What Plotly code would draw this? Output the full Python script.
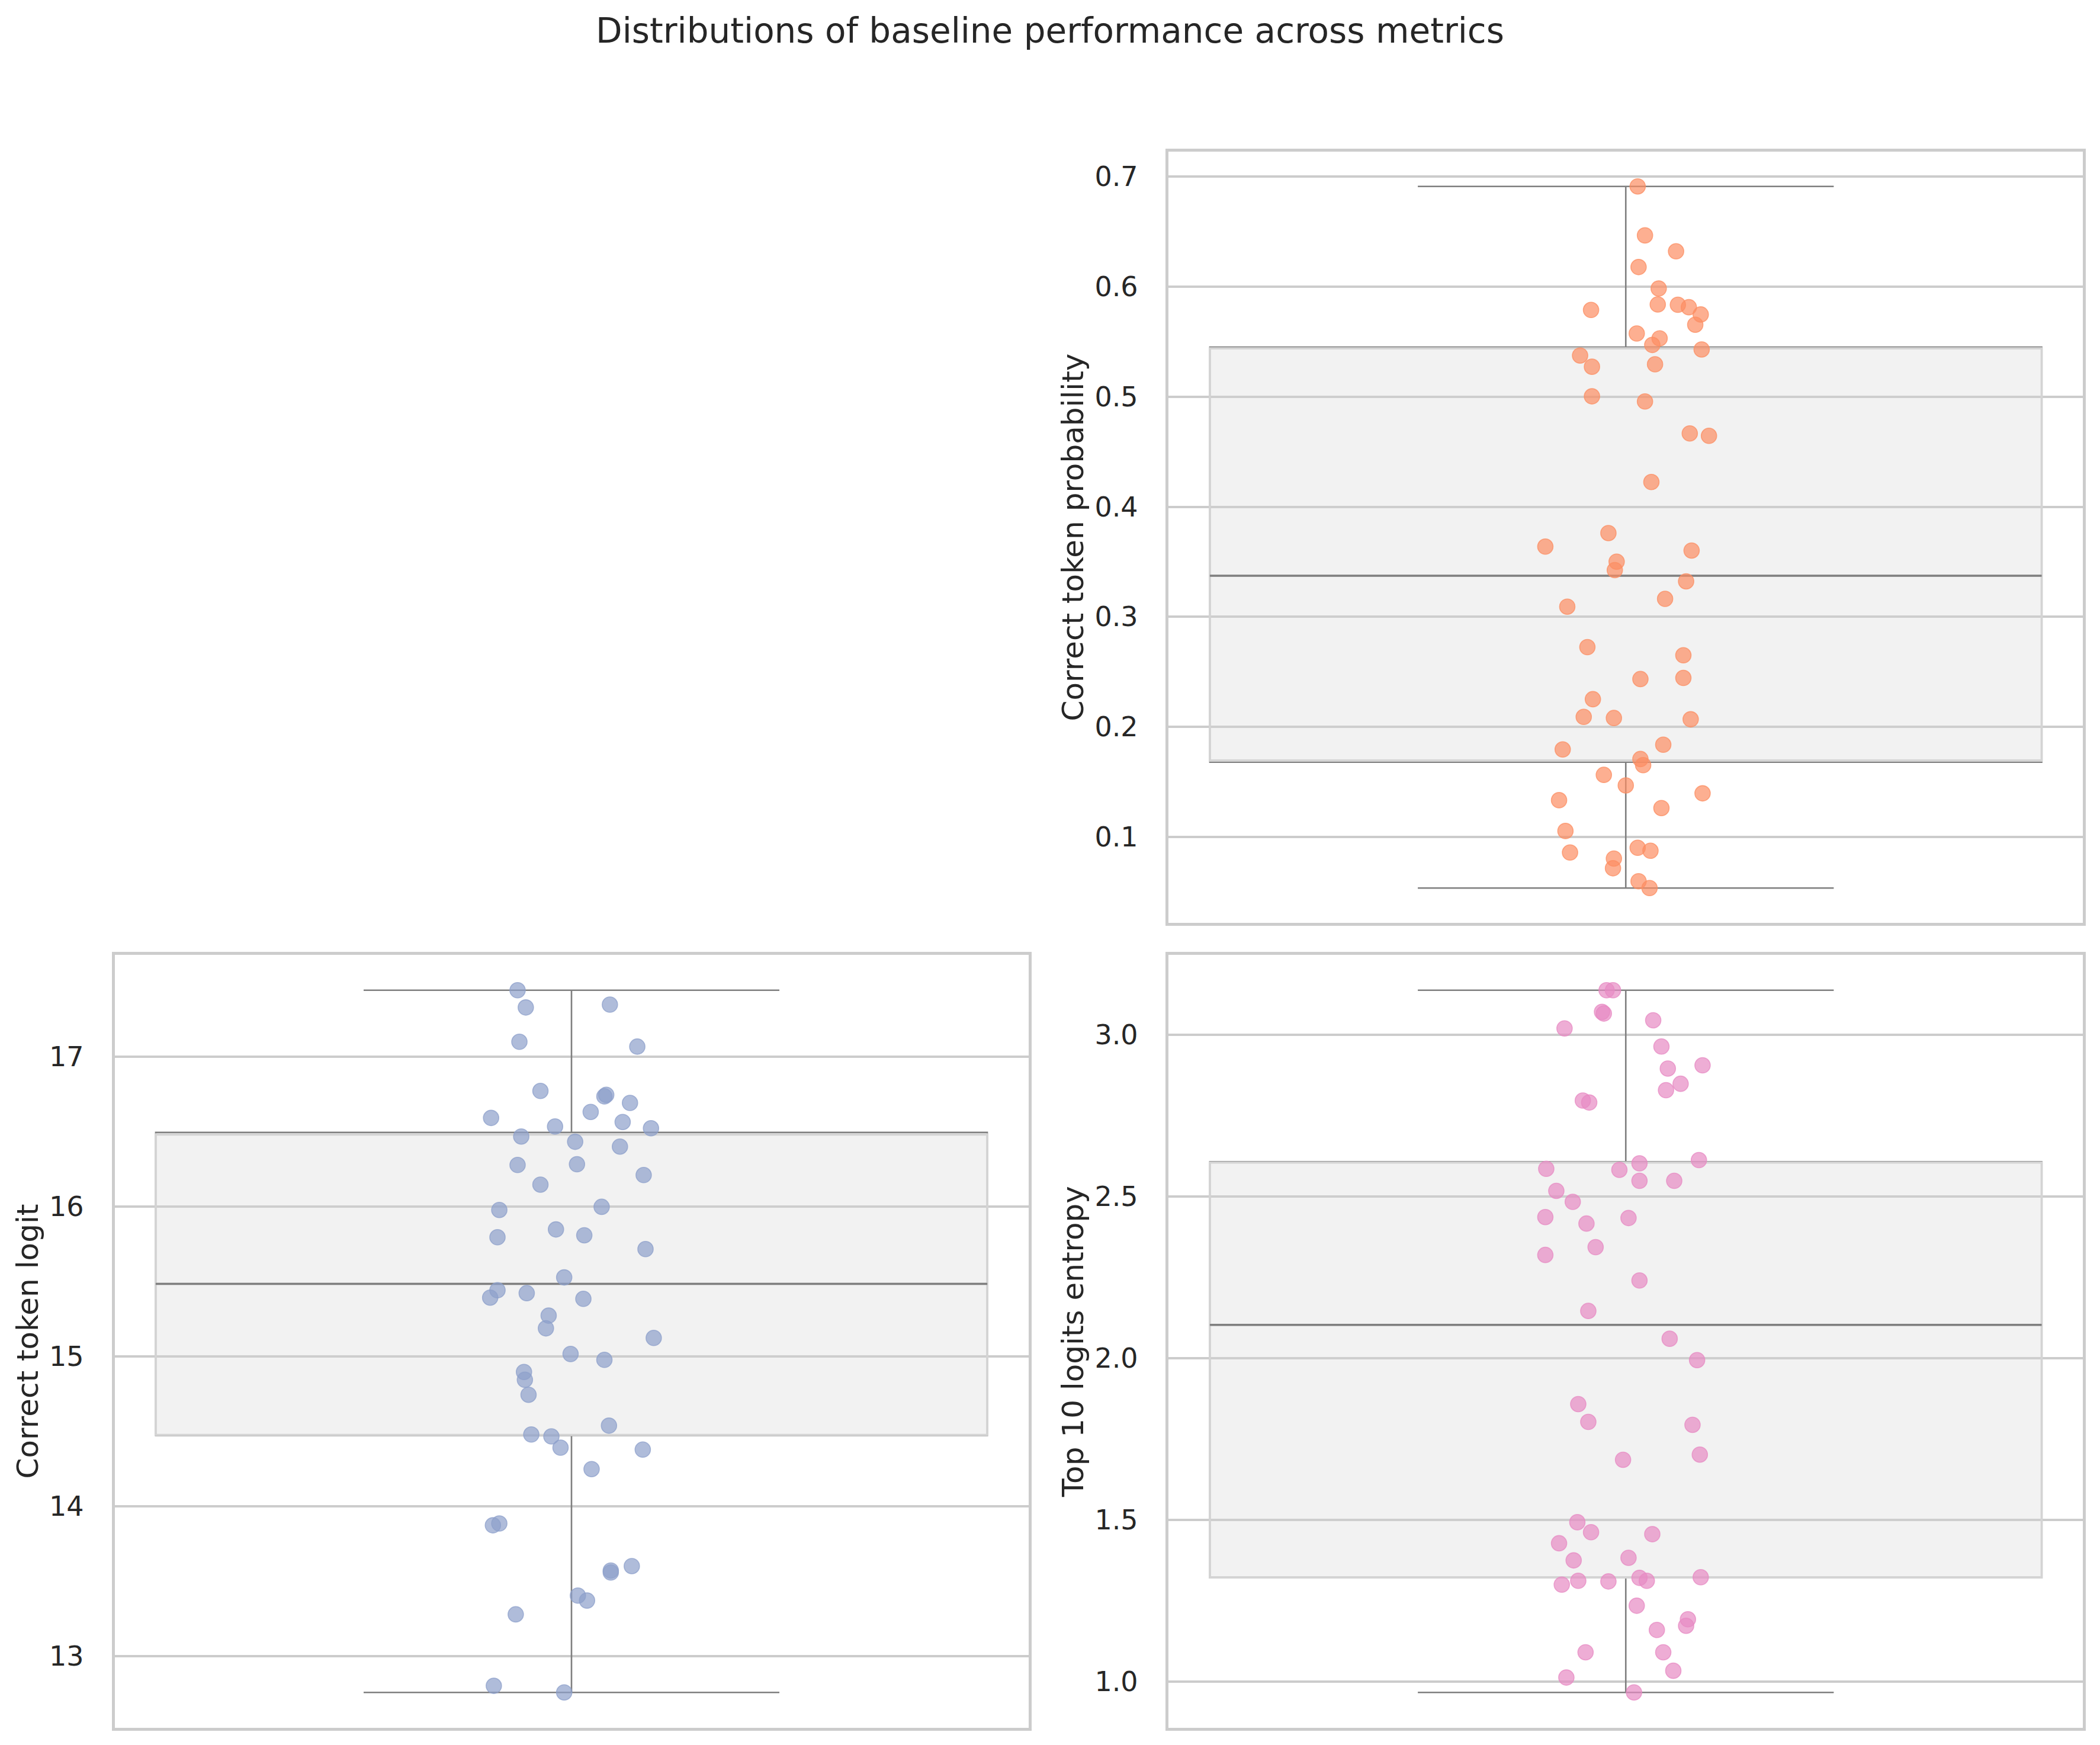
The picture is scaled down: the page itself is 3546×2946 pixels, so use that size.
import numpy as np
import plotly.graph_objects as go

TITLE = "Distributions of baseline performance across metrics"

# Correct token probability (top-right panel)
prob = [0.6912, 0.6467, 0.6322, 0.6179, 0.5984, 0.5789, 0.5839, 0.5836, 0.5814, 0.5748,
        0.5655, 0.5575, 0.5531, 0.5471, 0.5430, 0.5375, 0.5273, 0.5295, 0.5004, 0.4957,
        0.4667, 0.4645, 0.4225, 0.3761, 0.3638, 0.3602, 0.3501, 0.3424, 0.3322, 0.3163,
        0.3092, 0.2724, 0.2650, 0.2434, 0.2444, 0.2251, 0.2090, 0.2080, 0.2068, 0.1837,
        0.1794, 0.1707, 0.1651, 0.1563, 0.1467, 0.1395, 0.1333, 0.1261, 0.1053, 0.0857,
        0.0900, 0.0873, 0.0802, 0.0714, 0.0596, 0.0534]
prob_jitter = [0.013, 0.021, 0.055, 0.014, 0.036, -0.038, 0.035, 0.057, 0.069, 0.082,
               0.076, 0.012, 0.037, 0.029, 0.083, -0.050, -0.037, 0.032, -0.037, 0.021,
               0.070, 0.091, 0.028, -0.019, -0.088, 0.072, -0.010, -0.012, 0.066, 0.043,
               -0.064, -0.042, 0.063, 0.016, 0.063, -0.036, -0.046, -0.013, 0.071, 0.041,
               -0.069, 0.016, 0.019, -0.024, 0.000, 0.084, -0.073, 0.039, -0.066, -0.061,
               0.013, 0.027, -0.013, -0.014, 0.014, 0.026]

# Correct token logit (bottom-left panel)
logit = [17.443, 17.328, 17.347, 17.099, 17.067, 16.771, 16.735, 16.745, 16.691, 16.631,
         16.591, 16.534, 16.564, 16.522, 16.467, 16.432, 16.400, 16.277, 16.282, 16.210,
         16.146, 15.977, 15.998, 15.847, 15.795, 15.808, 15.716, 15.527, 15.441, 15.392,
         15.422, 15.384, 15.272, 15.187, 15.123, 15.016, 14.977, 14.896, 14.844, 14.744,
         14.538, 14.479, 14.466, 14.391, 14.378, 14.248, 13.885, 13.873, 13.601, 13.571,
         13.558, 13.404, 13.371, 13.279, 12.802, 12.758]
logit_jitter = [-0.059, -0.050, 0.042, -0.057, 0.072, -0.034, 0.036, 0.038, 0.064, 0.021,
                -0.088, -0.018, 0.056, 0.087, -0.055, 0.004, 0.053, -0.059, 0.006, 0.079,
                -0.034, -0.079, 0.033, -0.017, -0.081, 0.014, 0.081, -0.008, -0.081, -0.089,
                -0.049, 0.013, -0.025, -0.028, 0.090, -0.001, 0.036, -0.052, -0.051, -0.047,
                0.041, -0.044, -0.022, -0.012, 0.078, 0.022, -0.079, -0.086, 0.066, 0.043,
                0.043, 0.007, 0.017, -0.061, -0.085, -0.008]

# Top 10 logits entropy (bottom-right panel)
entropy = [3.137, 3.137, 3.070, 3.065, 3.044, 3.019, 2.963, 2.895, 2.905, 2.848,
           2.828, 2.796, 2.790, 2.612, 2.602, 2.585, 2.582, 2.548, 2.548, 2.517,
           2.483, 2.436, 2.416, 2.433, 2.343, 2.319, 2.240, 2.146, 2.060, 1.994,
           1.858, 1.803, 1.794, 1.686, 1.702, 1.493, 1.462, 1.456, 1.428, 1.375,
           1.383, 1.300, 1.312, 1.310, 1.321, 1.312, 1.323, 1.235, 1.193, 1.173,
           1.160, 1.091, 1.091, 1.034, 1.013, 0.967]
entropy_jitter = [-0.021, -0.014, -0.026, -0.024, 0.030, -0.067, 0.039, 0.046, 0.084, 0.060,
                  0.044, -0.047, -0.040, 0.080, 0.015, -0.087, -0.007, 0.015, 0.053, -0.076,
                  -0.058, -0.088, -0.043, 0.003, -0.033, -0.088, 0.015, -0.041, 0.048, 0.078,
                  -0.052, -0.041, 0.073, -0.003, 0.081, -0.053, -0.038, 0.029, -0.073, -0.057,
                  0.003, -0.070, -0.052, -0.019, 0.015, 0.023, 0.082, 0.012, 0.068, 0.066,
                  0.034, -0.044, 0.041, 0.052, -0.065, 0.009]

y_labels = ["Correct token probability", "Correct token logit", "Top 10 logits entropy"]
point_colors = ["252,141,98", "141,160,203", "231,138,195"]

FONT = "DejaVu Sans"
TEXT = "#262626"
GRID = "#cccccc"
BOXW = 0.91

panels = [
    dict(vals=prob, jit=prob_jitter, label=y_labels[0], rgb=point_colors[0], ax="",
         xdom=[0.55654, 0.99182], ydom=[0.47098, 0.91327], dtick=0.1, fmt=".1f"),
    dict(vals=logit, jit=logit_jitter, label=y_labels[1], rgb=point_colors[1], ax="2",
         xdom=[0.05457, 0.48971], ydom=[0.01001, 0.45265], dtick=1, fmt="d"),
    dict(vals=entropy, jit=entropy_jitter, label=y_labels[2], rgb=point_colors[2], ax="3",
         xdom=[0.55654, 0.99182], ydom=[0.01001, 0.45265], dtick=0.5, fmt=".1f"),
]

fig = go.Figure()
layout_axes = {}
for p in panels:
    xa, ya = "x" + p["ax"], "y" + p["ax"]
    v = np.asarray(p["vals"])
    q1, med, q3 = np.percentile(v, [25, 50, 75])
    common = dict(xaxis=xa, yaxis=ya, showlegend=False, hoverinfo="skip", width=BOXW)
    # whiskers (full box from data, dark lines)
    fig.add_trace(go.Box(y=v, x0=0, quartilemethod="linear", boxpoints=False,
                         whiskerwidth=0.5, fillcolor="rgba(0,0,0,0)",
                         line=dict(color="#7f7f7f", width=2.6), **common))
    # strip points
    fig.add_trace(go.Scatter(x=p["jit"], y=v, mode="markers", xaxis=xa, yaxis=ya,
                             showlegend=False, hoverinfo="skip",
                             marker=dict(size=26, color="rgba(%s,0.7)" % p["rgb"],
                                         line=dict(color="rgba(%s,0.75)" % p["rgb"], width=1.6))))
    # translucent box body over the points
    fig.add_trace(go.Box(x=[0], q1=[q1], median=[med], q3=[q3], lowerfence=[q1], upperfence=[q3],
                         whiskerwidth=0, fillcolor="rgba(211,211,211,0.3)",
                         line=dict(color="#d4d4d4", width=3.8), **common))
    # median line
    fig.add_trace(go.Box(x=[0], q1=[med], median=[med], q3=[med], lowerfence=[med], upperfence=[med],
                         whiskerwidth=0, fillcolor="rgba(0,0,0,0)",
                         line=dict(color="#7f7f7f", width=3.5), **common))
    lo, hi = v.min(), v.max()
    pad = 0.05 * (hi - lo)
    xkey = "xaxis" + p["ax"]
    ykey = "yaxis" + p["ax"]
    layout_axes[xkey] = dict(domain=p["xdom"], anchor=ya, range=[-0.5, 0.5],
                             showticklabels=False, showgrid=False, zeroline=False,
                             ticks="", showline=True, mirror=True, linecolor=GRID, linewidth=4.5)
    layout_axes[ykey] = dict(domain=p["ydom"], anchor=xa, range=[lo - pad, hi + pad],
                             dtick=p["dtick"], tickformat=p["fmt"], showgrid=True,
                             gridcolor=GRID, gridwidth=4, zeroline=False, ticks="",
                             ticklabelstandoff=38,
                             showline=True, mirror=True, linecolor=GRID, linewidth=4.5,
                             tickfont=dict(family=FONT, size=46, color=TEXT),
                             title=dict(text=p["label"], standoff=4,
                                        font=dict(family=FONT, size=50, color=TEXT)))

fig.update_layout(
    width=3546, height=2946,
    margin=dict(l=0, r=0, t=0, b=0),
    paper_bgcolor="white", plot_bgcolor="white",
    boxmode="overlay",
    title=dict(text=TITLE, x=0.5, xanchor="center", y=0.9825, yanchor="middle",
               yref="container", font=dict(family=FONT, size=58, color=TEXT)),
    font=dict(family=FONT, color=TEXT),
    **layout_axes,
)

fig.write_html("out.html", config={"displayModeBar": False},
               post_script="document.body.style.margin='0';document.body.style.overflow='hidden';")
